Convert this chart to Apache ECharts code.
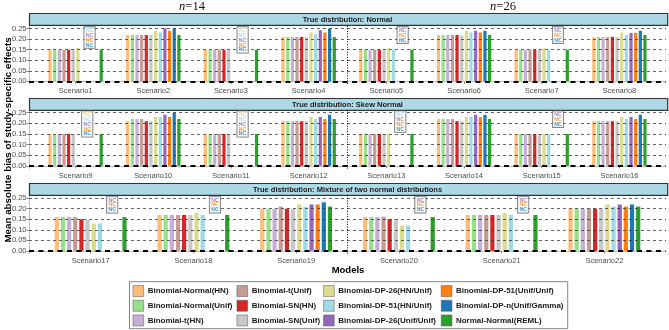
<!DOCTYPE html>
<html><head><meta charset="utf-8">
<script src="https://cdn.jsdelivr.net/npm/echarts@6/dist/echarts.min.js"></script>
<style>html,body{margin:0;padding:0;background:#fff}#c{width:669px;height:330px}</style>
</head><body><div id="c"></div>
<script>
const models = ['Binomial-Normal(HN)','Binomial-Normal(Unif)','Binomial-t(HN)','Binomial-t(Unif)','Binomial-SN(HN)','Binomial-SN(Unif)','Binomial-DP-26(HN/Unif)','Binomial-DP-51(HN/Unif)','Binomial-DP-26(Unif/Unif)','Binomial-DP-51(Unif/Unif)','Binomial-DP-n(Unif/Gamma)','Normal-Normal(REML)'];
const modelColors = ['#FFBB78','#98DF8A','#C5B0D5','#C49C94','#D62728','#C7C7C7','#DBDB8D','#9EDAE5','#9467BD','#FF7F0E','#1F77B4','#2CA02C'];
const rowTitles = ['True distribution: Normal','True distribution: Skew Normal','True distribution: Mixture of two normal distributions'];
const sampleSizes = ['14','26'];
const yTicks = [0, 0.05, 0.10, 0.15, 0.20, 0.25];

// Mean absolute bias, in model order; null = not converged (NC)
const scenario1  = [0.15,0.15,0.15,0.15,0.15,0.15,0.158,null,null,null,null,0.15];
const scenario2  = [0.22,0.22,0.22,0.22,0.22,0.22,0.24,0.232,0.252,0.24,0.252,0.22];
const scenario3  = [0.15,0.15,0.15,0.15,0.15,0.15,null,null,null,null,null,0.15];
const scenario4  = [0.21,0.21,0.21,0.21,0.211,0.21,0.232,0.223,0.242,0.232,0.25,0.21];
const scenario5  = [0.15,0.15,0.15,0.15,0.149,0.15,0.157,0.15,null,null,null,0.15];
const scenario6  = [0.22,0.22,0.22,0.22,0.22,0.218,0.24,0.232,0.24,0.232,0.24,0.22];
const scenario7  = [0.15,0.15,0.15,0.15,0.15,0.15,0.157,0.15,null,null,null,0.15];
const scenario8  = [0.21,0.21,0.21,0.21,0.211,0.21,0.231,0.22,0.23,0.23,0.24,0.22];
const scenario9  = [0.15,0.15,0.15,0.15,0.15,0.15,null,null,null,null,null,0.15];
const scenario10 = [0.21,0.22,0.22,0.22,0.21,0.21,0.23,0.23,0.24,0.23,0.25,0.22];
const scenario11 = [0.15,0.15,0.15,0.15,0.15,0.15,null,null,null,null,null,0.15];
const scenario12 = [0.21,0.21,0.21,0.21,0.21,0.21,0.23,0.22,0.23,0.22,0.24,0.22];
const scenario13 = [0.15,0.15,0.15,0.15,0.15,0.15,0.15,null,null,null,null,0.15];
const scenario14 = [0.22,0.22,0.22,0.22,0.21,0.21,0.23,0.23,0.24,0.23,0.24,0.22];
const scenario15 = [0.15,0.15,0.15,0.15,0.15,0.15,0.15,0.15,null,null,null,0.15];
const scenario16 = [0.21,0.21,0.21,0.21,0.21,0.21,0.23,0.22,0.23,0.22,0.24,0.22];
const scenario17 = [0.16,0.16,0.16,0.16,0.15,0.148,0.13,0.13,null,null,null,0.16];
const scenario18 = [0.17,0.17,0.17,0.17,0.17,0.17,0.18,0.17,null,null,null,0.17];
const scenario19 = [0.20,0.20,0.20,0.21,0.20,0.20,0.22,0.21,0.22,0.22,0.23,0.21];
const scenario20 = [0.16,0.16,0.16,0.162,0.15,0.15,0.12,0.12,null,null,null,0.16];
const scenario21 = [0.17,0.17,0.17,0.17,0.17,0.17,0.18,0.17,null,null,null,0.17];
const scenario22 = [0.20,0.20,0.20,0.20,0.20,0.20,0.22,0.21,0.22,0.21,0.22,0.21];

const row1Categories = ['Scenario1','Scenario2','Scenario3','Scenario4','Scenario5','Scenario6','Scenario7','Scenario8'];
const row2Categories = ['Scenario9','Scenario10','Scenario11','Scenario12','Scenario13','Scenario14','Scenario15','Scenario16'];
const row3Categories = ['Scenario17','Scenario18','Scenario19','Scenario20','Scenario21','Scenario22'];
const row1Values = [scenario1,scenario2,scenario3,scenario4,scenario5,scenario6,scenario7,scenario8];
const row2Values = [scenario9,scenario10,scenario11,scenario12,scenario13,scenario14,scenario15,scenario16];
const row3Values = [scenario17,scenario18,scenario19,scenario20,scenario21,scenario22];

// ---------- layout ----------
const rows = [
  {cats: row1Categories, vals: row1Values, stripTop: 13.5, top: 26,    h: 58},
  {cats: row2Categories, vals: row2Values, stripTop: 98.5, top: 110,   h: 58.5},
  {cats: row3Categories, vals: row3Values, stripTop: 183.5, top: 195.5, h: 58}
];
const plotL = 29, plotR = 666, W = 669;
const yMin = -0.0125, yMax = 0.2625;
const catGap = 0.3, barGapFrac = 0.45;
const FONT = 'Liberation Sans, Arial, sans-serif';

const grid = [], xAxis = [], yAxis = [], series = [], graphic = [];
const rich = {};
modelColors.forEach((c, i) => { rich['m' + i] = {color: c, fontSize: 5.2, fontWeight: 'bold', lineHeight: 4.8, fontFamily: FONT}; });

rows.forEach((R, r) => {
  const n = R.cats.length;
  const unit = (plotR - plotL) / (n + 0.2);
  const gA = grid.length, gB = gA + 1;
  grid.push({left: plotL, right: W - plotR, top: R.top, height: R.h});
  grid.push({left: plotL + 0.1 * unit, right: W - plotR + 0.1 * unit, top: R.top, height: R.h});
  xAxis.push({type: 'value', gridIndex: gA, min: 0.4, max: n + 0.6,
    axisLine: {show: true, lineStyle: {color: '#bdbdbd', width: 1}},
    axisTick: {show: false}, axisLabel: {show: false}, splitLine: {show: false}});
  xAxis.push({type: 'category', gridIndex: gB, data: R.cats, boundaryGap: true,
    axisLine: {show: false},
    axisTick: {show: true, alignWithLabel: true, length: 2.5, lineStyle: {color: '#8c8c8c'}},
    axisLabel: {fontSize: 7.5, color: '#4D4D4D', margin: 3, fontFamily: FONT, interval: 0}});
  yAxis.push({type: 'value', gridIndex: gA, min: yMin, max: yMax,
    axisLine: {show: true, lineStyle: {color: '#bdbdbd', width: 1}},
    axisTick: {show: true, length: 2.5, customValues: yTicks, lineStyle: {color: '#8c8c8c'}},
    axisLabel: {customValues: yTicks, formatter: v => v.toFixed(2), fontSize: 7.5, color: '#4D4D4D', margin: 2.5, fontFamily: FONT},
    splitLine: {show: false}});
  yAxis.push({type: 'value', gridIndex: gB, min: yMin, max: yMax, show: false, splitLine: {show: false}});

  // gridlines + separator
  series.push({type: 'line', xAxisIndex: gA, yAxisIndex: gA, data: [], z: 1, silent: true,
    markLine: {silent: true, symbol: 'none', label: {show: false}, animation: false,
      lineStyle: {color: '#3a3a3a', width: 0.8, type: [3, 3]},
      data: yTicks.filter(v => v > 0).map(v => ({yAxis: v})).concat([
        {xAxis: n / 2 + 0.5, lineStyle: {color: '#111', width: 1, type: [1, 1.6]}}
      ])}});
  // bars
  models.forEach((m, k) => {
    series.push({type: 'bar', name: m, xAxisIndex: gB, yAxisIndex: gB,
      data: R.vals.map(s => s[k]), itemStyle: {color: modelColors[k]},
      barCategoryGap: (catGap * 100) + '%', barGap: (barGapFrac * 100) + '%', z: 2, animation: false});
  });
  // zero line
  series.push({type: 'line', xAxisIndex: gA, yAxisIndex: gA, data: [], z: 10, silent: true,
    markLine: {silent: true, symbol: 'none', label: {show: false}, animation: false,
      lineStyle: {color: '#000', width: 2, type: [5, 4.5]}, data: [{yAxis: 0}]}});
  // NC boxes
  const barW = unit * (1 - catGap) / (12 + 11 * barGapFrac);
  const slot = barW * (1 + barGapFrac);
  const ncData = [];
  R.vals.forEach((s, ci) => {
    const miss = [];
    s.forEach((v, k) => { if (v === null) miss.push(k); });
    if (!miss.length) return;
    const mean = miss.reduce((a, b) => a + b, 0) / miss.length;
    ncData.push({value: [ci, 0.257], label: {show: true,
      formatter: miss.map(k => '{m' + k + '|NC}').join('\n'), offset: [(mean - 5.5) * slot, 0]}});
  });
  series.push({type: 'scatter', xAxisIndex: gB, yAxisIndex: gB, symbolSize: 0, z: 12, silent: true, animation: false,
    data: ncData,
    label: {show: true, position: 'bottom', distance: 0, backgroundColor: '#fff', borderColor: '#555', borderWidth: 0.8,
      padding: [1.2, 1.5, 0.4, 1.5], rich: rich}});

  // strip header
  graphic.push({type: 'rect', shape: {x: plotL + 0.5, y: R.stripTop, width: plotR - plotL + 1.2, height: 11.8},
    style: {fill: '#ADD8E6', stroke: '#333', lineWidth: 1.2}, z: 5});
  graphic.push({type: 'text', z: 6, style: {text: rowTitles[r], x: (plotL + plotR) / 2, y: R.stripTop + 6.2,
    align: 'center', verticalAlign: 'middle', fontSize: 7.5, fontWeight: 'bold', fontFamily: FONT, fill: '#1a1a1a'}});
});

// top titles n=14, n=26
sampleSizes.forEach((s, i) => {
  const mid = i === 0 ? 192 : 503;
  graphic.push({type: 'text', z: 6, style: {text: '{i|n}{r|=' + s + '}', x: mid, y: 7, align: 'center', verticalAlign: 'middle',
    rich: {i: {fontStyle: 'italic', fontSize: 12.5, fontFamily: 'Liberation Serif, serif', fill: '#111', color: '#111'},
           r: {fontSize: 12.5, fontFamily: 'Liberation Serif, serif', fill: '#111', color: '#111'}}}});
});
// axis titles
graphic.push({type: 'text', z: 6, rotation: Math.PI / 2, x: 8.5, y: 140,
  style: {text: 'Mean absolute bias of study-specific effects', align: 'center', verticalAlign: 'middle',
    fontSize: 9.8, fontWeight: 'bold', fontFamily: FONT, fill: '#000'}});
graphic.push({type: 'text', z: 6, style: {text: 'Models', x: 348, y: 270, align: 'center', verticalAlign: 'middle',
  fontSize: 9.5, fontWeight: 'bold', fontFamily: FONT, fill: '#000'}});
// legend box
graphic.push({type: 'rect', z: 0, shape: {x: 129.5, y: 281.7, width: 438.2, height: 47}, style: {fill: '#fff', stroke: '#666', lineWidth: 0.8}});

const legendCols = [132.7, 236.7, 323.3, 441];
const legend = legendCols.map((x, c) => ({
  data: models.slice(c * 3, c * 3 + 3), orient: 'vertical', left: x, top: 285.3,
  itemWidth: 10.7, itemHeight: 11, itemGap: 3.2, icon: 'rect', selectedMode: false, padding: 0,
  itemStyle: {borderColor: '#555', borderWidth: 0.5},
  textStyle: {fontSize: 8, fontWeight: 'bold', fontFamily: FONT, color: '#1a1a1a', padding: [0, 0, 0, -1]}
}));

const chart = echarts.init(document.getElementById('c'), null, {renderer: 'canvas'});
chart.setOption({animation: false, backgroundColor: '#fff', grid, xAxis, yAxis, series, legend, graphic});
</script></body></html>
